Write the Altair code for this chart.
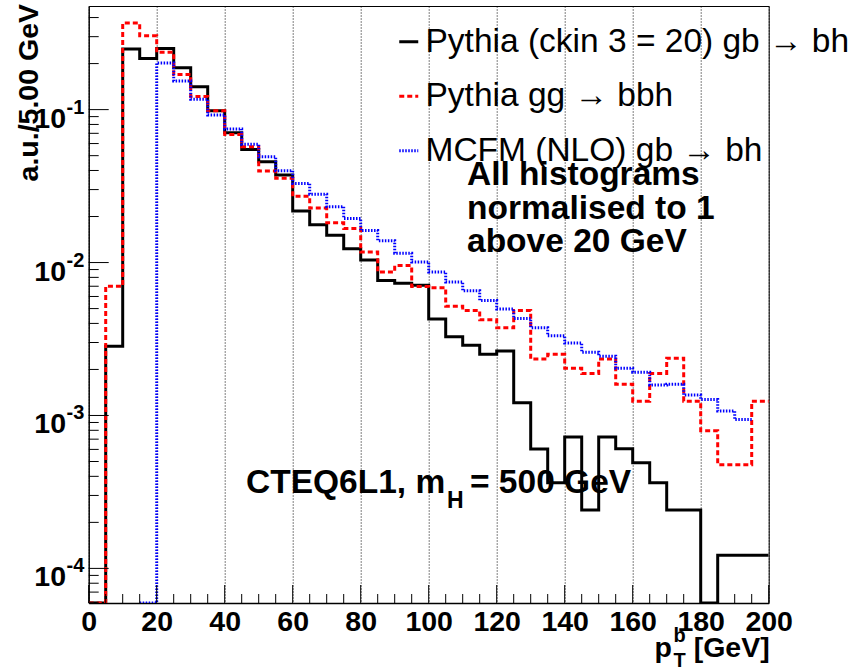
import altair as alt
import pandas as pd

# ---------------- data ----------------
BIN_W = 5
names = ["Pythia (ckin 3 = 20) gb \u2192 bh", "Pythia gg \u2192 bbh", "MCFM (NLO) gb \u2192 bh"]

black_start = 0
black_vals = [0, 2.84e-3, 0.249, 0.216, 0.251, 0.188, 0.141, 0.0985, 0.0705, 0.0548,
              0.0456, 0.0373, 0.0217, 0.0177, 0.0151, 0.0123, 0.0104, 0.00763, 0.00733, 0.00711,
              0.00427, 0.00327, 0.00288, 0.00251, 0.00264, 0.00121, 0.000603, 0.000363, 0.000724, 0.000241,
              0.000724, 0.000605, 0.000491, 0.000363, 0.000241, 0.000241, 0, 0.000122, 0.000122, 0.000122]

red_start = 0
red_vals = [0, 0.0070, 0.368, 0.304, 0.237, 0.170, 0.122, 0.0985, 0.0687, 0.0571,
            0.0397, 0.0356, 0.0271, 0.0227, 0.0182, 0.0167, 0.0117, 0.00868, 0.00955, 0.00697,
            0.00685, 0.00517, 0.00486, 0.00422, 0.00374, 0.00486, 0.00234, 0.00251, 0.00204, 0.00188,
            0.00234, 0.00160, 0.00124, 0.00188, 0.00237, 0.00124, 0.000794, 0.000477, 0.000477, 0.00124]

blue_start = 15
blue_vals = [0, 0.202, 0.154, 0.117, 0.0923, 0.0748, 0.0594, 0.0491, 0.0398, 0.0329,
             0.0280, 0.0232, 0.0194, 0.0162, 0.0139, 0.0115, 0.0101, 0.00868, 0.00747, 0.00653,
             0.00565, 0.00496, 0.00431, 0.00374, 0.00332, 0.00298, 0.00259, 0.00244, 0.00204, 0.00192,
             0.00158, 0.00160, 0.00136, 0.00127, 0.00107, 0.00094]

x_labels = [0, 20, 40, 60, 80, 100, 120, 140, 160, 180, 200]
x_minor = [v for v in range(0, 201, 5) if v % 20 != 0]
y_exps = [-1, -2, -3, -4]
y_major = [10.0 ** e for e in y_exps]
y_minor = [m * 10.0 ** e for e in [-5, -4, -3, -2, -1] for m in range(2, 10)]

YMIN, YMAX = 5.94e-5, 0.476
y_minor = [v for v in y_minor if YMIN < v < YMAX]

W, H = 680, 597
SANS = "Liberation Sans"
FS = 33.5          # annotation / legend text
FS_AX = 28.5       # axis labels and titles
FS_SMALL = 20      # super/subscripts

# ---------------- build step-histogram table ----------------
rows = []
for name, start, vals in [(names[0], black_start, black_vals),
                          (names[1], red_start, red_vals),
                          (names[2], blue_start, blue_vals)]:
    for i, v in enumerate(vals):
        rows.append({"series": name, "x": start + i * BIN_W, "v": v, "i": i})
    rows.append({"series": name, "x": start + len(vals) * BIN_W, "v": vals[-1], "i": len(vals)})
df = pd.DataFrame(rows)

xscale = alt.Scale(domain=[0, 200], nice=False, zero=False)
yscale = alt.Scale(type="log", domain=[YMIN, YMAX], nice=False)

leg = dict(title=None, orient="none", legendX=303.3, legendY=19, padding=0,
           labelFont=SANS, labelFontSize=FS, labelColor="black", labelLimit=2000,
           symbolType="stroke", symbolSize=361, symbolStrokeWidth=3,
           rowPadding=19.5, labelOffset=0)

lines = alt.Chart(df).transform_calculate(
    vv=f"max(datum.v, {YMIN})"
).mark_line(interpolate="step-after", clip=True).encode(
    x=alt.X("x:Q", scale=xscale,
            axis=alt.Axis(values=x_labels, grid=True, gridDash=[1, 2], gridColor="black",
                          gridWidth=1, gridOpacity=1, ticks=False, tickSize=0,
                          labelFont=SANS, labelFontSize=FS_AX, labelFontWeight="bold",
                          labelColor="black", labelPadding=27, labelBaseline="alphabetic",
                          labelFlush=False, labelOverlap=False, title=None,
                          domainColor="black", domainWidth=1.5)),
    y=alt.Y("vv:Q", scale=yscale,
            axis=alt.Axis(labels=False, ticks=False, tickSize=0, grid=False, title=None,
                          domainColor="black", domainWidth=1)),
    color=alt.Color("series:N", scale=alt.Scale(domain=names, range=["#000000", "#ff0000", "#0000ff"]),
                    legend=alt.Legend(**leg)),
    strokeDash=alt.StrokeDash("series:N", scale=alt.Scale(domain=names, range=[[1, 0], [5, 3], [1.5, 1.5]]),
                              legend=alt.Legend(**leg)),
    strokeWidth=alt.StrokeWidth("series:N", scale=alt.Scale(domain=names, range=[3, 3, 2]), legend=None),
    order="i:Q",
)

# ---------------- inward ticks ----------------
ymaj = alt.Chart(pd.DataFrame({"v": y_major})).mark_rule(color="black", strokeWidth=1).encode(
    y=alt.Y("v:Q", scale=yscale), x=alt.value(0), x2=alt.value(20))
ymin_ = alt.Chart(pd.DataFrame({"v": y_minor})).mark_rule(color="black", strokeWidth=1).encode(
    y=alt.Y("v:Q", scale=yscale), x=alt.value(0), x2=alt.value(10))
xmaj = alt.Chart(pd.DataFrame({"x": x_labels})).mark_rule(color="black", strokeWidth=1).encode(
    x=alt.X("x:Q", scale=xscale), y=alt.value(H), y2=alt.value(H - 18))
xmin_ = alt.Chart(pd.DataFrame({"x": x_minor})).mark_rule(color="black", strokeWidth=1).encode(
    x=alt.X("x:Q", scale=xscale), y=alt.value(H), y2=alt.value(H - 9))

# ---------------- y tick labels 10^n ----------------
ylab_df = pd.DataFrame({"v": y_major, "base": ["10"] * len(y_exps), "exp": [str(e) for e in y_exps]})
ylab_base = alt.Chart(ylab_df).mark_text(align="right", baseline="alphabetic", dy=18, font=SANS,
                                         fontSize=FS_AX, fontWeight="bold", color="black").encode(
    y=alt.Y("v:Q", scale=yscale), x=alt.value(-22.7), text="base:N")
ylab_exp = alt.Chart(ylab_df).mark_text(align="left", baseline="alphabetic", dy=4, font=SANS,
                                        fontSize=FS_SMALL, fontWeight="bold", color="black").encode(
    y=alt.Y("v:Q", scale=yscale), x=alt.value(-22.2), text="exp:N")


def txt(s, x, y, size=FS, font=SANS, weight="bold", align="left", angle=0):
    kw = dict(align=align, baseline="alphabetic", font=font, fontSize=size, fontWeight=weight, color="black")
    if angle:
        kw["angle"] = angle
    return alt.Chart(pd.DataFrame({"t": [s]})).mark_text(**kw).encode(
        x=alt.value(x), y=alt.value(y), text="t:N")


# axis titles
ytitle = txt("a.u./5.00 GeV", -50.7, -2, size=FS_AX, align="right", angle=270)
xt_p = txt("p", 583.3, 651, size=FS_AX, align="right")
xt_b = txt("b", 584.8, 636, size=FS_SMALL)
xt_T = txt("T", 584.8, 661, size=FS_SMALL)
xt_gev = txt("[GeV]", 681, 651, size=FS_AX, align="right")

# annotations
a1 = txt("All histograms", 378.3, 179)
a2 = txt("normalised to 1", 378.3, 212.5)
a3 = txt("above 20 GeV", 378.3, 246)
c1 = txt("CTEQ6L1, m", 157.3, 487.3)
c2 = txt("H", 358.3, 502, size=FS_SMALL + 3)
c3 = txt("= 500 GeV", 381.3, 487.3)

chart = alt.layer(
    lines, ymaj, ymin_, xmaj, xmin_, ylab_base, ylab_exp,
    ytitle, xt_p, xt_b, xt_T, xt_gev, a1, a2, a3, c1, c2, c3
).properties(
    width=W, height=H,
    autosize=alt.AutoSizeParams(type="none"),
    padding={"left": 88.7, "top": 6, "right": 99.3, "bottom": 68},
    background="white",
).configure_view(stroke="black", strokeWidth=1)

chart.save("out.html", embed_options={"renderer": "svg", "actions": False})
